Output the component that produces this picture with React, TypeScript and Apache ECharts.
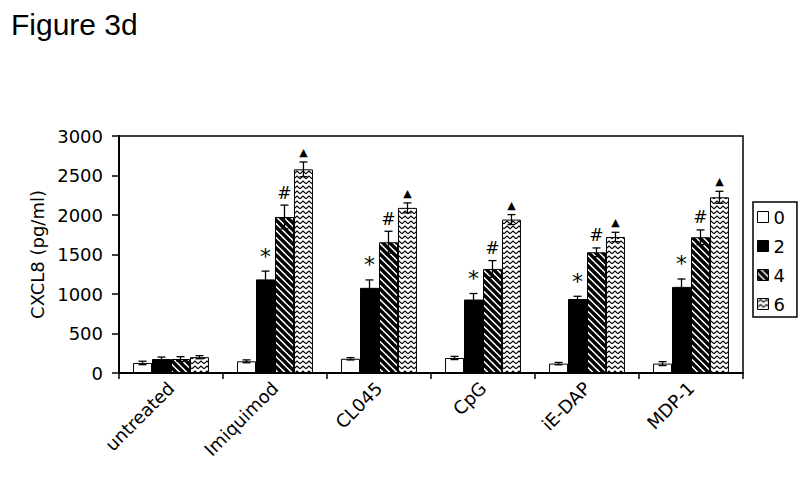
import React, { useEffect, useRef } from "react";
import * as echarts from "echarts";

const categories = ["untreated", "Imiquimod", "CL045", "CpG", "iE-DAP", "MDP-1"];
const seriesNames = ["0", "2", "4", "6"];

const values0 = [127, 148, 180, 190, 119, 119];
const values2 = [177, 1185, 1078, 930, 937, 1090];
const values4 = [177, 1975, 1655, 1317, 1528, 1718];
const values6 = [200, 2578, 2090, 1942, 1722, 2224];

const errors0 = [22, 18, 15, 20, 15, 25];
const errors2 = [25, 105, 100, 76, 34, 100];
const errors4 = [30, 150, 139, 106, 55, 93];
const errors6 = [20, 93, 63, 63, 59, 76];

const annot0 = ["", "", "", "", "", ""];
const annot2 = ["", "*", "*", "*", "*", "*"];
const annot4 = ["", "#", "#", "#", "#", "#"];
const annot6 = ["", "▲", "▲", "▲", "▲", "▲"];

const yTicks = { min: 0, max: 3000, interval: 500 };

const allValues = [values0, values2, values4, values6];
const allErrors = [errors0, errors2, errors4, errors6];
const allAnnots = [annot0, annot2, annot4, annot6];

const CAT_GAP = 0.27;

function hatchPattern(): any {
  const p = 7;
  const c = document.createElement("canvas");
  c.width = p;
  c.height = p;
  const ctx = c.getContext("2d")!;
  ctx.fillStyle = "#fff";
  ctx.fillRect(0, 0, p, p);
  ctx.strokeStyle = "#000";
  ctx.lineWidth = 3.4;
  for (const off of [-p, 0, p]) {
    ctx.beginPath();
    ctx.moveTo(off - 1, -1);
    ctx.lineTo(off + p + 1, p + 1);
    ctx.stroke();
  }
  return { image: c, repeat: "repeat", imageWidth: p, imageHeight: p };
}

function zigzagPattern(): any {
  const w = 6;
  const h = 5;
  const c = document.createElement("canvas");
  c.width = w;
  c.height = h;
  const ctx = c.getContext("2d")!;
  ctx.fillStyle = "#fff";
  ctx.fillRect(0, 0, w, h);
  ctx.strokeStyle = "#000";
  ctx.lineWidth = 1.1;
  ctx.beginPath();
  ctx.moveTo(0, 3.8);
  ctx.lineTo(3, 1.1);
  ctx.lineTo(6, 3.8);
  ctx.stroke();
  return { image: c, repeat: "repeat", imageWidth: w, imageHeight: h };
}

export default function App() {
  const ref = useRef<HTMLDivElement>(null);

  useEffect(() => {
    if (!ref.current) return;
    const chart = echarts.init(ref.current, undefined, { renderer: "svg" });
    const fills: any[] = ["#ffffff", "#000000", hatchPattern(), zigzagPattern()];
    const font = "DejaVu Sans";

    const barSeries = seriesNames.map((name, k) => ({
      name,
      type: "bar",
      data: allValues[k],
      barGap: "0%",
      barCategoryGap: CAT_GAP * 100 + "%",
      itemStyle: { color: fills[k], borderColor: "#000", borderWidth: 1 },
      z: 2,
    }));

    const errSeries = seriesNames.map((name, k) => ({
      name: "err" + name,
      type: "custom",
      z: 5,
      data: categories.map((_, i) => [i, allValues[k][i], allErrors[k][i]]),
      renderItem: (params: any, api: any) => {
        const idx = api.value(0);
        const v = api.value(1);
        const e = api.value(2);
        const band = api.size([1, 0])[0];
        const bw = (band * (1 - CAT_GAP)) / 4;
        const base = api.coord([idx, v]);
        const x = base[0] + (k - 1.5) * bw;
        const top = api.coord([idx, v + e])[1];
        const bot = api.coord([idx, v - e])[1];
        const cap = 4;
        const st = { stroke: "#000", lineWidth: 1.3 };
        const children: any[] = [
          { type: "line", shape: { x1: x, y1: top, x2: x, y2: bot }, style: st },
          { type: "line", shape: { x1: x - cap, y1: top, x2: x + cap, y2: top }, style: st },
          { type: "line", shape: { x1: x - cap, y1: bot, x2: x + cap, y2: bot }, style: st },
        ];
        const a = allAnnots[k][idx];
        if (a) {
          const fs = a === "*" ? 22 : a === "#" ? 17 : 11;
          const dy = a === "*" ? 4 : a === "#" ? 4 : 4;
          children.push({
            type: "text",
            style: {
              text: a,
              x: x,
              y: top - dy,
              align: "center",
              verticalAlign: "bottom",
              fontSize: fs,
              fontFamily: font,
              fill: "#000",
            },
          });
        }
        return { type: "group", children };
      },
    }));

    chart.setOption({
      animation: false,
      backgroundColor: "#fff",
      title: {
        text: "Figure 3d",
        left: 6,
        top: 4,
        textStyle: { fontSize: 30, fontWeight: "normal", fontFamily: "Liberation Sans", color: "#000" },
      },
      legend: {
        data: seriesNames,
        orient: "vertical",
        left: 753,
        top: 202,
        padding: [6, 12, 4, 4],
        itemGap: 11,
        itemWidth: 11,
        itemHeight: 11,
        borderColor: "#000",
        borderWidth: 1.5,
        icon: "rect",
        textStyle: { fontSize: 18, fontFamily: font, color: "#000", lineHeight: 16, padding: [0, 0, 0, 0] },
        itemStyle: { borderColor: "#000", borderWidth: 1 },
      },
      grid: {
        left: 119,
        right: 57,
        top: 136,
        bottom: 110,
        show: true,
        borderColor: "#000",
        borderWidth: 1.5,
        containLabel: false,
      },
      xAxis: {
        type: "category",
        data: categories,
        boundaryGap: true,
        axisLine: { lineStyle: { color: "#000", width: 2 } },
        axisTick: { show: true, length: 6, lineStyle: { color: "#000", width: 1.5 } },
        axisLabel: {
          rotate: 45,
          fontSize: 18,
          fontFamily: font,
          color: "#000",
          margin: 12,
          interval: 0,
        },
      },
      yAxis: {
        type: "value",
        min: yTicks.min,
        max: yTicks.max,
        interval: yTicks.interval,
        name: "CXCL8 (pg/ml)",
        nameLocation: "middle",
        nameGap: 68,
        nameTextStyle: { fontSize: 18, fontFamily: font, color: "#000" },
        axisLine: { show: true, lineStyle: { color: "#000", width: 2 } },
        axisTick: { show: true, length: 7, lineStyle: { color: "#000", width: 1.5 } },
        axisLabel: {
          fontSize: 18,
          fontFamily: font,
          color: "#000",
          margin: 16,
          formatter: (v: number) => String(v),
        },
        splitLine: { show: false },
      },
      series: [...barSeries, ...errSeries],
    });

    return () => chart.dispose();
  }, []);

  return (
    <div
      ref={ref}
      style={{ position: "fixed", left: 0, top: 0, width: 800, height: 483, background: "#fff" }}
    />
  );
}
